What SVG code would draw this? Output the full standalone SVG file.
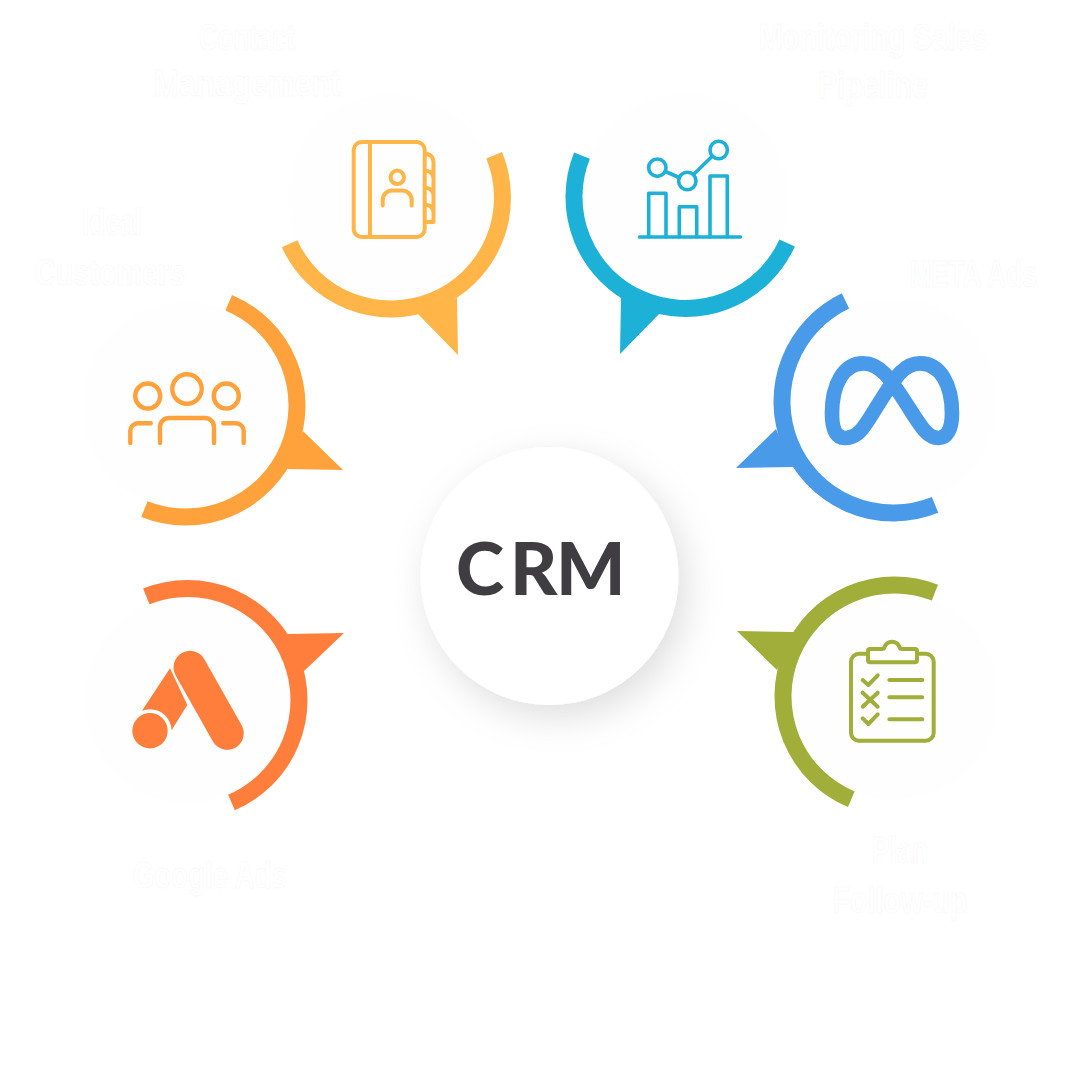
<svg xmlns="http://www.w3.org/2000/svg" width="1080" height="1080" viewBox="0 0 1080 1080">
<style>
.disc{fill:#fefefe}
.ring{fill:none;stroke-width:17}
.lbl{font-family:"Liberation Sans",Arial,sans-serif;font-size:36px;font-weight:700;fill:#fff;stroke:#f8f8f8;stroke-width:.6;text-anchor:middle}
.ic{fill:none;stroke-linecap:round;stroke-linejoin:round}
</style>
<defs>
<filter id="sh" x="-30%" y="-30%" width="170%" height="170%"><feDropShadow dx="8" dy="12" stdDeviation="18" flood-color="#000" flood-opacity=".13"/></filter>
</defs>
<rect width="1080" height="1080" fill="#fff"/>
<g id="connectors">
<polygon points="417,313 458,355 457,298" fill="#FFB547"/>
<polygon points="621,297 620,354 660,313" fill="#1EB1D8"/>
<polygon points="303,431 343,470 287,469" fill="#FFA23C"/>
<polygon points="287,634 344,633 303,672" fill="#FF7E3B"/>
<polygon points="737,631 794,632 777,670" fill="#A2AE3A"/>
<polygon points="736,468 776,429 793,467" fill="#4A9AEA"/>
</g>
<g id="center">
<circle cx="549.5" cy="576" r="129" fill="#fff" filter="url(#sh)"/>
<text x="456 510 556" y="595" font-family="Lato,'Liberation Sans',sans-serif" font-size="73" font-weight="900" fill="#3F3D42">CRM</text>
</g>
<g id="contact-management">
<circle class="disc" cx="391" cy="197.5" r="103"/>
<circle class="ring" cx="391" cy="197.5" r="111.5" pathLength="360" stroke-dasharray="177.7 182.3" transform="rotate(-22.3 391 197.5)" stroke="#FFB547"/>
<g class="ic" stroke="#FFB547" stroke-width="4">
<rect x="353.7" y="142" width="71" height="95" rx="8"/>
<path d="M370 143V236"/>
<circle cx="397.3" cy="177.3" r="6.7"/>
<path d="M382.700 205.500V200a9.500 9.500 0 0 1 9.500-9.500h10a9.500 9.500 0 0 1 9.500 9.500V205.500"/>
<path d="M427 154q6 1 6.500 8V222H427M427 171q6 1 6.500 7M427 188q6 1 6.500 7M427 205q6 1 6.500 7"/>
</g>
<text class="lbl" x="247" y="50" textLength="96" lengthAdjust="spacingAndGlyphs">Contact</text>
<text class="lbl" x="247" y="96" textLength="187" lengthAdjust="spacingAndGlyphs">Management</text>
</g>
<g id="monitoring-sales-pipeline">
<circle class="disc" cx="685.5" cy="197" r="103"/>
<circle class="ring" cx="685.5" cy="197" r="111.5" pathLength="360" stroke-dasharray="177.4 182.6" transform="rotate(24.3 685.5 197)" stroke="#1EB1D8"/>
<g class="ic" stroke="#1EB1D8" stroke-width="3.6">
<path d="M639.500 237H740.500"/>
<path d="M648.700 237V193.300H666V237M679.300 237V206.700H696.700V237M710 237V176H727.300V237"/>
<circle cx="657.3" cy="167.7" r="8.7"/>
<circle cx="687.3" cy="181" r="8.7"/>
<circle cx="718.7" cy="150" r="8.7"/>
<path d="M665.500 171.500L679 177.500M693.500 174.500L712 156.500"/>
</g>
<text class="lbl" x="873" y="50" textLength="228" lengthAdjust="spacingAndGlyphs">Monitoring Sales</text>
<text class="lbl" x="873" y="98" textLength="110" lengthAdjust="spacingAndGlyphs">Pipeline</text>
</g>
<g id="ideal-customers">
<circle class="disc" cx="185.5" cy="405.5" r="103"/>
<circle class="ring" cx="185.5" cy="405.5" r="111.5" pathLength="360" stroke-dasharray="178.8 181.2" transform="rotate(-67.2 185.5 405.5)" stroke="#FFA23C"/>
<g class="ic" stroke="#FFA23C" stroke-width="4.4">
<circle cx="147.7" cy="396" r="12.5"/>
<circle cx="187" cy="389" r="14.7"/>
<circle cx="226.3" cy="396" r="12.5"/>
<path d="M130.300 443V431a7.700 7.700 0 0 1 7.700-7.700H150.700M160 443V427a9 9 0 0 1 9-9H205a9 9 0 0 1 9 9V443M223.300 423.300H236a7.700 7.700 0 0 1 7.700 7.700V443"/>
</g>
<text class="lbl" x="112" y="235" textLength="60" lengthAdjust="spacingAndGlyphs">Ideal</text>
<text class="lbl" x="110" y="285" textLength="150" lengthAdjust="spacingAndGlyphs">Customers</text>
</g>
<g id="google-ads">
<circle class="disc" cx="187.5" cy="700" r="103"/>
<circle class="ring" cx="187.5" cy="700" r="111.5" pathLength="360" stroke-dasharray="178.400 181.600" transform="rotate(-111.7 187.5 700)" stroke="#FF7E3B"/>
<polygon points="142,710.7 170,668.3 187.3,705 171.7,730" fill="#FF7E3B"/>
<circle cx="150" cy="730.7" r="21.5" fill="#fefefe"/>
<circle cx="150" cy="730.7" r="17.7" fill="#FF7E3B"/>
<path d="M190 667.300L227.300 733.300" stroke="#FF7E3B" stroke-width="33" stroke-linecap="round"/>
<text class="lbl" x="210" y="888" textLength="154" lengthAdjust="spacingAndGlyphs">Google Ads</text>
</g>
<g id="plan-follow-up">
<circle class="disc" cx="894.5" cy="696.5" r="103"/>
<circle class="ring" cx="894.5" cy="696.5" r="111.5" pathLength="360" stroke-dasharray="178.4 181.6" transform="rotate(112.8 894.5 696.5)" stroke="#A2AE3A"/>
<g class="ic" stroke="#A2AE3A" stroke-width="4">
<rect x="851" y="653.7" width="82.7" height="87" rx="8"/>
<path d="M870 649H882q2 0 2.500-2a8 8 0 0 1 15 0q.5 2 2.500 2H915q2 0 2 2V660q0 2.300-2.300 2.300H870q-2 0-2-2.300V651q0-2 2-2Z" fill="#fefefe"/>
<path d="M862.700 680L868.300 685L877.700 675.300M889.300 680H922.300M862.700 692.700L877.700 706.700M877.700 692.700L862.700 706.700M889.300 697.300H922.300M862.700 718.300L868.300 724L877.700 714.300M889.300 719.300H922.300"/>
</g>
<text class="lbl" x="900" y="863" textLength="56" lengthAdjust="spacingAndGlyphs">Plan</text>
<text class="lbl" x="900" y="913" textLength="135" lengthAdjust="spacingAndGlyphs">Follow-up</text>
</g>
<g id="meta-ads">
<circle class="disc" cx="893.5" cy="401.5" r="103"/>
<circle class="ring" cx="893.5" cy="401.5" r="111.5" pathLength="360" stroke-dasharray="176.3 183.7" transform="rotate(68.1 893.5 401.5)" stroke="#4A9AEA"/>
<path transform="translate(730 290) scale(.3333)" d="M306 370C306 285 340 220 400 220C450 220 480 265 525 335C570 405 590 444 625 444C650 444 666 420 666 370C666 285 632 220 570 220C520 220 495 265 450 335C405 405 390 444 345 444C320 444 306 420 306 370Z" fill="none" stroke="#4A9AEA" stroke-width="44" stroke-linejoin="round"/>
<text class="lbl" x="973" y="287" textLength="127" lengthAdjust="spacingAndGlyphs">META Ads</text>
</g>
</svg>
